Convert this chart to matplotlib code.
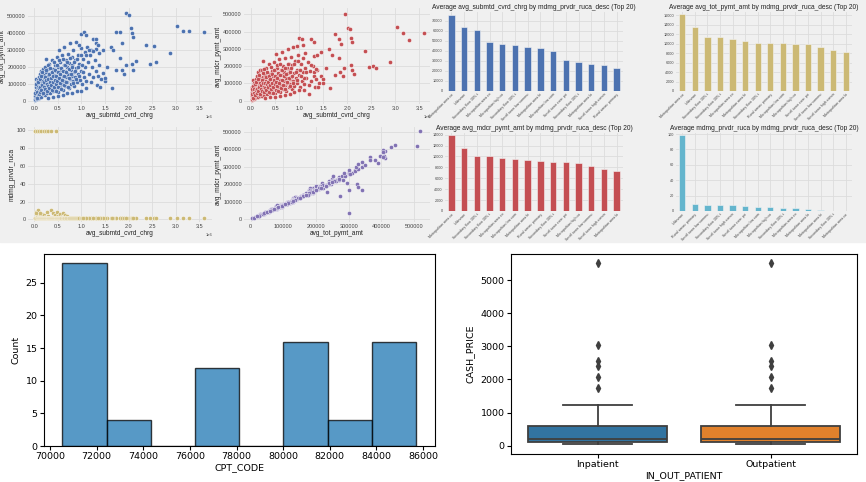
"""
Dashboard screenshot rebuild: 8 small Medicare provider panels on a grey strip,
plus a CPT_CODE histogram and a CASH_PRICE box plot underneath.
"""

import numpy as np
import matplotlib
matplotlib.use("Agg")
import matplotlib.pyplot as plt
from matplotlib.patches import Rectangle
from matplotlib.ticker import MultipleLocator

W, H = 866, 482

# ----------------------------------------------------------------------------
# Data
# ----------------------------------------------------------------------------
# provider rows: submitted charge (millions), total payment and medicare
# payment (thousands), ruca code
charge_m = [
    0.01, 0.02, 0.02, 0.03, 0.03, 0.04, 0.04, 0.05, 0.05, 0.06,
    0.06, 0.07, 0.07, 0.08, 0.08, 0.09, 0.10, 0.10, 0.11, 0.11,
    0.12, 0.12, 0.13, 0.14, 0.14, 0.15, 0.15, 0.16, 0.17, 0.17,
    0.18, 0.18, 0.19, 0.20, 0.20, 0.21, 0.22, 0.22, 0.23, 0.24,
    0.25, 0.25, 0.26, 0.27, 0.28, 0.29, 0.30, 0.30, 0.31, 0.32,
    0.33, 0.34, 0.35, 0.36, 0.37, 0.38, 0.39, 0.40, 0.40, 0.41,
    0.42, 0.43, 0.44, 0.45, 0.46, 0.47, 0.48, 0.49, 0.50, 0.50,
    0.51, 0.52, 0.53, 0.54, 0.55, 0.56, 0.57, 0.58, 0.59, 0.60,
    0.61, 0.62, 0.63, 0.64, 0.65, 0.66, 0.67, 0.68, 0.69, 0.70,
    0.71, 0.72, 0.73, 0.74, 0.75, 0.76, 0.77, 0.78, 0.79, 0.80,
    0.81, 0.82, 0.83, 0.84, 0.85, 0.86, 0.87, 0.88, 0.89, 0.90,
    0.92, 0.93, 0.95, 0.96, 0.98, 1.00, 1.02, 1.03, 1.05, 1.07,
    1.08, 1.10, 1.12, 1.13, 1.15, 1.18, 1.20, 1.22, 1.25, 1.28,
    1.30, 1.33, 1.35, 1.38, 1.42, 1.45, 1.50, 0.30, 0.50, 0.70,
    0.90, 1.10, 0.40, 0.60, 0.80, 1.95, 2.01, 3.03, 3.16, 3.29,
    3.59, 2.06, 2.08, 2.10, 1.74, 1.82, 1.87, 2.37, 2.54, 2.88,
    2.15, 2.08, 2.09, 2.46, 2.59, 1.82, 1.74, 1.85, 1.91, 1.94,
    1.63, 1.68, 1.64, 1.55, 1.50, 1.45, 0.95, 1.00, 1.06, 1.09,
    1.25, 1.31, 1.30, 1.37, 0.99, 1.40, 1.20, 1.30, 1.15, 1.35,
    1.10, 1.25, 0.02, 0.03, 0.04, 0.05, 0.06, 0.07, 0.08, 0.09,
    0.10, 0.11, 0.12, 0.13, 0.14, 0.15, 0.16, 0.17, 0.18, 0.19,
    0.20, 0.21, 0.22, 0.23, 0.24, 0.25, 0.26, 0.27, 0.28, 0.29,
    0.30, 0.31, 0.32, 0.33, 0.34, 0.35, 0.36, 0.37, 0.38, 0.39,
    0.40, 0.41, 0.42, 0.43, 0.44, 0.45, 0.46, 0.47, 0.48, 0.49,
    0.50, 0.51, 0.52, 0.53, 0.54, 0.55, 0.56, 0.57, 0.58, 0.60,
    0.61, 0.62, 0.64, 0.65, 0.67, 0.68, 0.70, 0.71, 0.73, 0.74,
    0.76, 0.78, 0.80, 0.82, 0.84, 0.86, 0.88, 0.90, 0.93, 0.95,
    0.98, 1.01, 1.04,
]
tot_pymt_k = [
    5, 12, 30, 60, 95, 20, 130, 45, 75, 110,
    10, 35, 125, 60, 90, 20, 140, 50, 100, 75,
    30, 160, 120, 55, 95, 180, 25, 140, 70, 110,
    40, 190, 85, 130, 155, 60, 200, 100, 35, 170,
    80, 250, 120, 45, 150, 95, 190, 65, 130, 220,
    50, 105, 165, 80, 140, 240, 60, 190, 115, 90,
    155, 210, 70, 125, 175, 95, 260, 140, 55, 200,
    110, 300, 165, 80, 230, 130, 185, 100, 270, 150,
    65, 210, 120, 320, 175, 90, 245, 140, 200, 110,
    280, 160, 75, 225, 130, 340, 185, 100, 260, 150,
    215, 120, 300, 170, 90, 240, 140, 350, 195, 110,
    270, 160, 220, 125, 310, 180, 100, 250, 140, 290,
    200, 120, 320, 230, 160, 270, 110, 200, 140, 240,
    175, 95, 150, 210, 130, 165, 120, 20, 30, 45,
    60, 75, 25, 38, 50, 518, 508, 443, 411, 411,
    405, 431, 400, 380, 405, 409, 340, 329, 325, 283,
    234, 218, 181, 220, 230, 252, 181, 181, 160, 211,
    321, 301, 79, 200, 135, 300, 329, 396, 405, 390,
    364, 364, 305, 285, 61, 81, 300, 340, 302, 328,
    273, 294, 45, 80, 100, 20, 55, 85, 115, 40,
    75, 130, 55, 85, 150, 65, 95, 170, 120, 50,
    80, 110, 140, 70, 125, 185, 60, 100, 210, 130,
    90, 160, 75, 115, 195, 95, 135, 65, 170, 110,
    150, 230, 85, 125, 185, 100, 60, 145, 210, 120,
    170, 80, 135, 240, 105, 160, 195, 70, 125, 180,
    250, 95, 145, 210, 115, 170, 230, 85, 190, 135,
    255, 160, 200, 105, 230, 175, 130, 250, 200, 150,
    270, 215, 170,
]
mdcr_pymt_k = [
    4, 10, 26, 50, 82, 17, 118, 36, 66, 95,
    8, 30, 100, 48, 80, 16, 125, 40, 82, 64,
    24, 140, 96, 48, 72, 165, 20, 110, 60, 90,
    30, 175, 70, 100, 130, 48, 180, 80, 26, 135,
    66, 230, 95, 35, 125, 70, 150, 52, 112, 190,
    38, 85, 140, 60, 118, 215, 45, 155, 98, 70,
    130, 170, 55, 108, 140, 75, 225, 112, 42, 175,
    85, 270, 135, 62, 190, 110, 150, 78, 240, 120,
    50, 180, 92, 280, 148, 68, 200, 115, 165, 88,
    245, 130, 58, 190, 100, 300, 160, 80, 215, 125,
    175, 98, 255, 138, 70, 205, 112, 310, 160, 85,
    230, 130, 180, 100, 265, 150, 80, 215, 112, 245,
    165, 95, 275, 190, 130, 225, 88, 170, 115, 200,
    145, 78, 125, 175, 105, 140, 100, 15, 24, 35,
    50, 62, 20, 30, 40, 504, 420, 424, 392, 350,
    393, 414, 362, 340, 385, 359, 325, 285, 200, 223,
    152, 205, 180, 196, 187, 245, 150, 165, 140, 190,
    300, 265, 75, 190, 125, 280, 315, 360, 355, 320,
    355, 340, 260, 265, 60, 78, 36, 166, 166, 185,
    132, 204, 38, 66, 85, 16, 45, 70, 96, 33,
    60, 110, 44, 70, 125, 55, 78, 150, 100, 40,
    65, 90, 118, 58, 100, 160, 48, 82, 185, 105,
    72, 135, 60, 95, 165, 78, 110, 50, 140, 88,
    125, 195, 68, 100, 155, 80, 46, 120, 175, 95,
    140, 62, 110, 205, 84, 130, 160, 55, 100, 150,
    210, 75, 118, 175, 92, 140, 190, 68, 155, 108,
    215, 130, 165, 85, 190, 140, 105, 210, 165, 120,
    230, 175, 140,
]
ruca = [
    99, 99, 1, 1, 8, 1, 1, 99, 5, 1,
    1, 3, 1, 1, 10, 1, 99, 1, 7, 1,
    1, 1, 4, 1, 1, 99, 2, 1, 1, 6,
    1, 1, 1, 99, 5, 1, 1, 3, 1, 1,
    99, 1, 8, 1, 1, 4, 99, 1, 1, 2,
    1, 1, 99, 10, 1, 1, 7, 1, 1, 3,
    1, 5, 1, 1, 2, 99, 1, 8, 1, 1,
    4, 1, 1, 6, 1, 1, 3, 1, 1, 7,
    1, 1, 2, 1, 1, 5, 1, 1, 1, 4,
    1, 1, 1, 1, 1, 1, 1, 1, 1, 1,
    1, 1, 1, 1, 1, 1, 1, 1, 1, 1,
    1, 1, 1, 1, 1, 1, 1, 1, 1, 1,
    1, 1, 1, 1, 1, 1, 1, 1, 1, 1,
    1, 1, 1, 1, 1, 1, 1, 1, 1, 1,
    1, 1, 1, 1, 1, 1, 1, 1, 1, 1,
    1, 1, 1, 1, 1, 1, 1, 1, 1, 1,
    1, 1, 1, 1, 1, 1, 1, 1, 1, 1,
    1, 1, 1, 1, 1, 1, 1, 1, 1, 1,
    1, 1, 1, 1, 1, 1, 1, 1, 1, 1,
    1, 1, 1, 7, 1, 3, 1, 1, 1, 1,
    1, 7, 1, 1, 1, 1, 1, 1, 1, 1,
    1, 1, 1, 1, 1, 1, 1, 1, 1, 1,
    1, 1, 1, 1, 1, 1, 1, 1, 1, 1,
    1, 1, 1, 1, 1, 1, 1, 1, 1, 1,
    1, 1, 1, 1, 1, 1, 1, 1, 1, 1,
    1, 1, 1, 1, 1, 1, 1, 1, 1, 1,
    1, 1, 1, 1, 1, 1, 1, 1, 1, 1,
    1, 1, 1,
]

# group averages by ruca description (14 groups shown)
submtd_labels = [
    "Metropolitan area co", "Unknown", "Secondary flow 30% t",
    "Micropolitan area co", "Micropolitan high co", "Secondary flow 30% t",
    "Small town low commu", "Metropolitan area hi", "Micropolitan low com",
    "Small town core: pri", "Secondary flow 30% t", "Metropolitan area lo",
    "Small town high comm", "Rural areas: primary",
]
submtd_avg = [75300, 63300, 61000, 49000, 46700, 45700, 44000,
              43300, 40000, 31300, 28700, 26700, 26000, 23300]

tot_labels = [
    "Metropolitan area co", "Unknown", "Secondary flow 30% t",
    "Secondary flow 30% t", "Micropolitan area co", "Metropolitan area hi",
    "Secondary flow 30% t", "Rural areas: primary", "Micropolitan low com",
    "Micropolitan high co", "Small town core: pri", "Small town low commu",
    "Small town high comm", "Metropolitan area lo",
]
tot_avg = [16200, 13500, 11500, 11400, 11000, 10500, 10200,
           10200, 10100, 9900, 9900, 9400, 8600, 8200]

mdcr_labels = [
    "Metropolitan area co", "Unknown", "Secondary flow 30% t",
    "Secondary flow 30% t", "Micropolitan area co", "Micropolitan low com",
    "Metropolitan area hi", "Rural areas: primary", "Secondary flow 30% t",
    "Small town core: pri", "Micropolitan high co", "Small town low commu",
    "Small town high comm", "Metropolitan area lo",
]
mdcr_avg = [13900, 11600, 10150, 10100, 9800, 9450, 9300,
            9100, 9050, 8900, 8800, 8300, 7750, 7250]

ruca_labels = [
    "Unknown", "Rural areas: primary", "Small town low commu",
    "Secondary flow 30% t", "Small town high comm", "Small town core: pri",
    "Micropolitan low com", "Micropolitan high co", "Secondary flow 30% t",
    "Micropolitan area co", "Metropolitan area lo", "Metropolitan area hi",
    "Secondary flow 30% t", "Metropolitan area co",
]
ruca_avg = [99, 9.6, 8.3, 7.5, 7.4, 6.6, 5.7, 4.8, 4.4, 3.5, 2.2, 1.3, 0, 0]

# CPT_CODE histogram
cpt_bin_edges = [70528, 72424, 74320, 76216, 78112, 80008, 81904, 83800, 85696]
cpt_counts = [28, 4, 0, 12, 0, 16, 4, 16]

# CASH_PRICE box plot summary
patient_types = ["Inpatient", "Outpatient"]
cash_q1 = [120, 120]
cash_median = [210, 210]
cash_q3 = [590, 590]
cash_whislo = [40, 40]
cash_whishi = [1215, 1215]
cash_fliers = [[1730, 2085, 2420, 2570, 3035, 5525],
               [1730, 2085, 2420, 2570, 3035, 5525]]

# ----------------------------------------------------------------------------
# Style
# ----------------------------------------------------------------------------
BG = "#f0f0f0"
GRID = "#dcdcdc"
TOPFONT = "Liberation Sans"
BLUE, GOLD, RED, PURPLE, CYAN = "#4c72b0", "#ccb974", "#c44e52", "#8172b3", "#64b5cd"

charge = np.array(charge_m) * 1e6
tot_pymt = np.array(tot_pymt_k) * 1000
mdcr_pymt = np.array(mdcr_pymt_k) * 1000

fig = plt.figure(figsize=(W / 100, H / 100), dpi=100)
fig.patches.append(Rectangle((0, 1 - 242 / H), 1, 242 / H, transform=fig.transFigure,
                             color=BG, zorder=-10))


def px_axes(left, top, right, bottom):
    return fig.add_axes([left / W, 1 - bottom / H, (right - left) / W, (bottom - top) / H])


def style_top(ax, labelsize):
    ax.set_facecolor(BG)
    for s in ax.spines.values():
        s.set_visible(False)
    ax.grid(True, color=GRID, lw=0.6)
    ax.set_axisbelow(True)
    ax.tick_params(length=0, labelsize=labelsize, pad=1.5, labelcolor="#444444")
    for lab in ax.get_xticklabels() + ax.get_yticklabels():
        lab.set_fontfamily(TOPFONT)


def scatter(ax, x, y, color, xlabel, ylabel, xlim, ylim, xstep, ystep):
    ax.scatter(x, y, s=9, c=color, edgecolors="white", linewidths=0.3)
    ax.set_xlim(xlim)
    ax.set_ylim(ylim)
    ax.xaxis.set_major_locator(MultipleLocator(xstep))
    ax.yaxis.set_major_locator(MultipleLocator(ystep))
    style_top(ax, 4.0)
    ax.set_xlabel(xlabel, fontsize=4.7, labelpad=1, family=TOPFONT, color="#222222")
    ax.set_ylabel(ylabel, fontsize=4.7, labelpad=1, family=TOPFONT, color="#222222")
    off = ax.xaxis.get_offset_text()
    off.set_fontsize(3)
    off.set_fontfamily(TOPFONT)


def bars(ax, labels, values, color, title, ytop, ystep):
    pos = np.arange(len(values))
    ax.bar(pos, values, width=0.5, color=color, edgecolor="#f4f4f4", linewidth=0.4)
    ax.set_xticks(pos)
    ax.set_xticklabels(labels, rotation=45, ha="right", rotation_mode="anchor")
    ax.set_xlim(-0.5, len(values) - 0.5)
    ax.set_ylim(0, ytop)
    ax.yaxis.set_major_locator(MultipleLocator(ystep))
    style_top(ax, 2.7)
    ax.tick_params(axis="x", labelsize=2.6, pad=1)
    ax.set_title(title, fontsize=4.75, pad=2, family=TOPFONT, color="#222222")


# ----------------------------------------------------------------------------
# Top strip
# ----------------------------------------------------------------------------
ax = px_axes(28, 8, 212, 104)
scatter(ax, charge, tot_pymt, BLUE, "avg_submtd_cvrd_chrg", "avg_tot_pymt_amt",
        (-0.134e6, 3.77e6), (-17600, 549000), 0.5e6, 100000)

ax = px_axes(244, 8, 430, 104)
scatter(ax, charge, mdcr_pymt, RED, "avg_submtd_cvrd_chrg", "avg_mdcr_pymt_amt",
        (-0.146e6, 3.72e6), (-19000, 536000), 0.5e6, 100000)

ax = px_axes(28, 127, 212, 222)
scatter(ax, charge, ruca, GOLD, "avg_submtd_cvrd_chrg", "mdmg_prvdr_ruca",
        (-0.134e6, 3.77e6), (-3.0, 103.7), 0.5e6, 20)

ax = px_axes(244, 127, 430, 222)
scatter(ax, tot_pymt, mdcr_pymt, PURPLE, "avg_tot_pymt_amt", "avg_mdcr_pymt_amt",
        (-20500, 549000), (-17000, 527000), 100000, 100000)

ax = px_axes(445, 12, 623, 91)
bars(ax, submtd_labels, submtd_avg, BLUE,
     "Average avg_submtd_cvrd_chrg by mdmg_prvdr_ruca_desc (Top 20)", 78700, 10000)

ax = px_axes(676, 12, 852, 91)
bars(ax, tot_labels, tot_avg, GOLD,
     "Average avg_tot_pymt_amt by mdmg_prvdr_ruca_desc (Top 20)", 16700, 2000)

ax = px_axes(445, 133, 623, 211)
bars(ax, mdcr_labels, mdcr_avg, RED,
     "Average avg_mdcr_pymt_amt by mdmg_prvdr_ruca_desc (Top 20)", 14300, 2000)

ax = px_axes(676, 133, 852, 211)
bars(ax, ruca_labels, ruca_avg, CYAN,
     "Average mdmg_prvdr_ruca by mdmg_prvdr_ruca_desc (Top 20)", 101.4, 20)

# ----------------------------------------------------------------------------
# Histogram of CPT_CODE
# ----------------------------------------------------------------------------
ax = px_axes(44, 254, 435, 446)
edges = np.array(cpt_bin_edges)
ax.bar(edges[:-1], cpt_counts, width=np.diff(edges), align="edge",
       color="#1f77b4", alpha=0.75, edgecolor="black", linewidth=1.0)
ax.set_xlim(69743, 86514)
ax.set_ylim(0, 29.4)
ax.xaxis.set_major_locator(MultipleLocator(2000))
ax.yaxis.set_major_locator(MultipleLocator(5))
ax.tick_params(labelsize=6.8, length=3, pad=1.5)
ax.set_xlabel("CPT_CODE", fontsize=6.8, labelpad=1)
ax.set_ylabel("Count", fontsize=6.8, labelpad=4)

# ----------------------------------------------------------------------------
# Box plot of CASH_PRICE by IN_OUT_PATIENT
# ----------------------------------------------------------------------------
ax = px_axes(511, 254, 857, 454)
stats = [dict(q1=cash_q1[i], med=cash_median[i], q3=cash_q3[i],
              whislo=cash_whislo[i], whishi=cash_whishi[i],
              fliers=cash_fliers[i], label=patient_types[i])
         for i in range(len(patient_types))]
line_col = "#3f3f3f"
bp = ax.bxp(stats, positions=[0, 1], widths=0.8, patch_artist=True,
            boxprops=dict(edgecolor=line_col, linewidth=1.3),
            medianprops=dict(color=line_col, linewidth=1.3),
            whiskerprops=dict(color=line_col, linewidth=1.3),
            capprops=dict(color=line_col, linewidth=1.3),
            flierprops=dict(marker="d", markerfacecolor=line_col,
                            markeredgecolor=line_col, markersize=4))
for patch, col in zip(bp["boxes"], ["#3274a1", "#e1812c"]):
    patch.set_facecolor(col)
ax.set_xlim(-0.5, 1.5)
ax.set_ylim(-255, 5795)
ax.yaxis.set_major_locator(MultipleLocator(1000))
ax.tick_params(labelsize=6.8, length=3, pad=1.5)
ax.set_xlabel("IN_OUT_PATIENT", fontsize=6.8, labelpad=1)
ax.set_ylabel("CASH_PRICE", fontsize=6.8, labelpad=4)

fig.savefig("out.png", dpi=100)
